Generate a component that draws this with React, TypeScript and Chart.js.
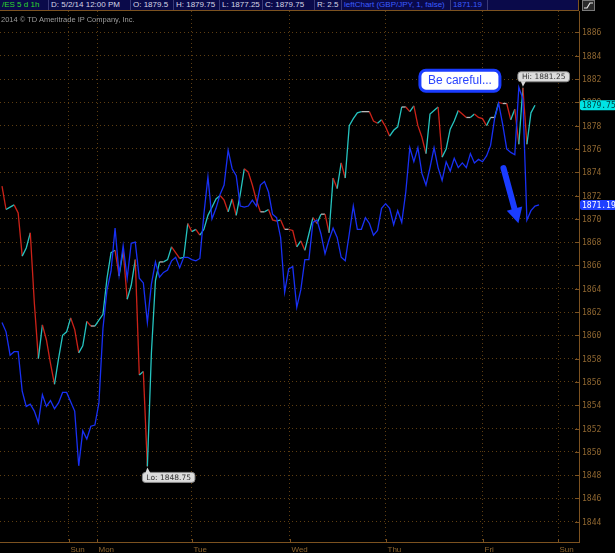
import React, { useEffect, useRef } from "react";
import { Chart, registerables } from "chart.js";

Chart.register(...registerables);

// ---------------- data ----------------
const HEADER_FIELDS = [
  "/ES 5 d 1h",
  "D: 5/2/14 12:00 PM",
  "O: 1879.5",
  "H: 1879.75",
  "L: 1877.25",
  "C: 1879.75",
  "R: 2.5",
  "leftChart (GBP/JPY, 1, false)",
  "1871.19",
];
const COPYRIGHT = "2014 \u00A9 TD Ameritrade IP Company, Inc.";
const NOTE_TEXT = "Be careful...";

// day boundaries on the hourly-bar axis
const DAY_LABELS = ["Sun", "Mon", "Tue", "Wed", "Thu", "Fri", "Sun"];
const DAY_TICKS = [16.5, 23.6, 47.0, 71.2, 95.0, 119.1, 137.7];

const PRICE_TICKS = [
  1844, 1846, 1848, 1850, 1852, 1854, 1856, 1858, 1860, 1862, 1864, 1866,
  1868, 1870, 1872, 1874, 1876, 1878, 1880, 1882, 1884, 1886,
];

// /ES hourly closes
const ES_PRICE = [
  1872.8, 1870.8, 1871.0, 1871.2, 1870.5, 1866.8, 1867.5, 1868.8, 1862.8, 1858.0,
  1860.9, 1859.6, 1857.6, 1855.8, 1858.0, 1860.0, 1860.3, 1861.5, 1860.5, 1858.5,
  1859.1, 1861.2, 1860.8, 1860.8, 1861.3, 1861.8, 1864.9, 1867.1, 1867.3, 1865.1,
  1867.3, 1863.1, 1864.3, 1866.5, 1856.6, 1856.9, 1848.75, 1858.5, 1864.7, 1866.3,
  1866.3, 1866.5, 1867.6, 1867.1, 1866.6, 1866.7, 1869.6, 1868.9, 1869.1, 1868.6,
  1869.1, 1870.3, 1871.0, 1871.7, 1872.0, 1871.6, 1870.6, 1871.7, 1870.3, 1872.1,
  1874.3, 1874.0, 1872.9, 1871.6, 1870.6, 1870.6, 1870.8, 1869.9, 1869.8, 1869.9,
  1869.1, 1869.1, 1869.0, 1867.6, 1868.1, 1867.3, 1868.7, 1870.1, 1869.6, 1870.4,
  1870.4, 1868.8, 1873.5, 1872.6, 1874.8, 1873.5, 1878.0, 1878.6, 1879.1, 1879.2,
  1879.2, 1879.2, 1878.4, 1878.2, 1878.5, 1877.9, 1877.1, 1877.6, 1877.9, 1879.6,
  1879.6, 1879.2, 1879.7, 1878.0, 1877.0, 1875.6, 1879.0, 1879.3, 1879.6, 1875.3,
  1876.0, 1877.7, 1878.4, 1879.3, 1879.0, 1878.7, 1878.7, 1879.0, 1878.7, 1878.6,
  1878.0, 1878.7, 1878.7, 1880.0, 1879.9, 1879.9, 1878.5, 1879.4, 1876.4, 1881.25,
  1876.4, 1879.1, 1879.75,
];

// GBP/JPY overlay, plotted on the price scale
const GBPJPY = [
  1861.1, 1860.3, 1858.3, 1858.6, 1858.6, 1855.2, 1853.9, 1854.1, 1853.5, 1852.5,
  1854.9, 1853.9, 1854.4, 1853.7, 1854.2, 1855.1, 1855.1, 1854.3, 1853.5, 1848.8,
  1851.8, 1851.1, 1852.2, 1852.3, 1854.2, 1860.6, 1863.9, 1865.5, 1869.2, 1865.2,
  1867.7, 1864.9, 1867.9, 1868.0, 1864.9, 1864.5, 1861.1, 1864.4, 1866.3, 1865.0,
  1865.4, 1865.6, 1866.4, 1866.7, 1865.8, 1866.7, 1866.7, 1866.5, 1866.4, 1866.6,
  1870.4, 1873.6, 1870.0, 1870.9, 1872.1, 1872.9, 1875.9, 1874.3, 1873.7, 1871.1,
  1871.0, 1871.1, 1871.6, 1871.1, 1872.9, 1873.2, 1872.3, 1870.4, 1870.1, 1868.4,
  1863.7, 1865.7, 1865.9, 1862.4, 1863.9, 1866.5, 1866.5, 1869.7, 1869.9, 1868.7,
  1867.0, 1868.2, 1869.2, 1868.4, 1866.7, 1866.4, 1868.7, 1871.1, 1869.1, 1869.1,
  1870.1, 1869.6, 1868.6, 1869.0, 1870.9, 1871.3, 1870.9, 1869.5, 1870.7, 1869.7,
  1872.3, 1876.1, 1874.9, 1876.1, 1873.9, 1872.9, 1874.4, 1876.1, 1874.4, 1873.3,
  1874.9, 1874.1, 1875.2, 1874.4, 1874.8, 1874.4, 1875.6, 1874.8, 1875.1, 1874.9,
  1875.4, 1876.3, 1878.6, 1879.9, 1878.1, 1876.0, 1875.7, 1875.5, 1881.3, 1880.3,
  1869.9, 1870.7, 1871.1, 1871.19,
];

// ---------------- styling ----------------
const W = 615;
const H = 553;
const X_MIN = -0.5;
const X_MAX = 142.9;
const Y_MIN = 1842.26;
const Y_MAX = 1887.84;

const UP = "#25c4c0";
const DOWN = "#cc2218";
const FLAT = "#b8b8b8";
const BLUE = "#1830f4";
const AXIS = "#7c5220";
const GRID = "#5e3e12";
const AXIS_TEXT = "#8e6630";

function roundRect(ctx: CanvasRenderingContext2D, x: number, y: number, w: number, h: number, r: number) {
  ctx.beginPath();
  ctx.moveTo(x + r, y);
  ctx.lineTo(x + w - r, y);
  ctx.arcTo(x + w, y, x + w, y + r, r);
  ctx.lineTo(x + w, y + h - r);
  ctx.arcTo(x + w, y + h, x + w - r, y + h, r);
  ctx.lineTo(x + r, y + h);
  ctx.arcTo(x, y + h, x, y + h - r, r);
  ctx.lineTo(x, y + r);
  ctx.arcTo(x, y, x + r, y, r);
  ctx.closePath();
}

const overlayPlugin = {
  id: "tosOverlay",
  afterDatasetsDraw(chart: any) {
    const { ctx, chartArea: a, scales } = chart;
    const xs = scales.x;
    const ys = scales.y;
    ctx.save();

    // y tick dashes and labels
    ctx.font = "8px 'DejaVu Sans Mono'";
    ctx.textBaseline = "middle";
    ctx.textAlign = "left";
    ctx.lineWidth = 1;
    PRICE_TICKS.forEach((v) => {
      const py = Math.round(ys.getPixelForValue(v)) + 0.5;
      ctx.strokeStyle = AXIS;
      ctx.beginPath();
      ctx.moveTo(a.right - 4, py);
      ctx.lineTo(a.right, py);
      ctx.stroke();
      ctx.fillStyle = AXIS_TEXT;
      ctx.fillText(String(v), a.right + 3, py);
    });

    // x tick marks and day labels
    ctx.font = "8px 'Liberation Sans'";
    DAY_TICKS.forEach((t, i) => {
      const px = Math.round(xs.getPixelForValue(t)) + 0.5;
      ctx.strokeStyle = AXIS;
      ctx.beginPath();
      ctx.moveTo(px, a.bottom - 3);
      ctx.lineTo(px, a.bottom);
      ctx.stroke();
      ctx.fillStyle = AXIS_TEXT;
      ctx.fillText(DAY_LABELS[i], px + 1, a.bottom + 8);
    });

    // last-value boxes on the price axis
    const lastBox = (val: number, text: string, bg: string, fg: string) => {
      const py = ys.getPixelForValue(val);
      ctx.fillStyle = bg;
      roundRect(ctx, a.right + 1, py - 5, W - a.right, 10, 2);
      ctx.fill();
      ctx.fillStyle = fg;
      ctx.font = "8px 'DejaVu Sans Mono'";
      ctx.textBaseline = "middle";
      ctx.fillText(text, a.right + 3, py + 0.5);
    };
    const lastEs = ES_PRICE[ES_PRICE.length - 1];
    const lastFx = GBPJPY[GBPJPY.length - 1];
    lastBox(lastEs, lastEs.toFixed(2), "#00e4e4", "#003a3a");
    lastBox(lastFx, lastFx.toFixed(2), "#1f40ff", "#ffffff");

    // Hi / Lo bubbles
    const hiIdx = ES_PRICE.indexOf(Math.max(...ES_PRICE));
    const loIdx = ES_PRICE.indexOf(Math.min(...ES_PRICE));
    const bubble = (idx: number, above: boolean) => {
      const v = ES_PRICE[idx];
      const px = xs.getPixelForValue(idx);
      const py = ys.getPixelForValue(v);
      const text = (above ? "Hi: " : "Lo: ") + v.toFixed(2);
      ctx.font = "7.5px 'DejaVu Sans'";
      const tw = ctx.measureText(text).width;
      const bw = tw + 8;
      const bh = 10;
      const bx = px - 5;
      const by = above ? py - 6 - bh : py + 6;
      ctx.fillStyle = "#dcdcdc";
      ctx.strokeStyle = "#8a8a8a";
      ctx.lineWidth = 1;
      roundRect(ctx, bx, by, bw, bh, 3);
      ctx.fill();
      ctx.stroke();
      ctx.beginPath();
      if (above) {
        ctx.moveTo(bx + 3, by + bh - 0.5);
        ctx.lineTo(px, py - 1);
        ctx.lineTo(bx + 8, by + bh - 0.5);
      } else {
        ctx.moveTo(bx + 3, by + 0.5);
        ctx.lineTo(px, py + 1);
        ctx.lineTo(bx + 8, by + 0.5);
      }
      ctx.fillStyle = "#dcdcdc";
      ctx.fill();
      ctx.fillStyle = "#333333";
      ctx.textBaseline = "middle";
      ctx.textAlign = "left";
      ctx.fillText(text, bx + 4, by + bh / 2 + 0.5);
    };
    bubble(hiIdx, true);
    bubble(loIdx, false);

    // "Be careful..." callout
    const nx = xs.getPixelForValue(103.5);
    const ny = ys.getPixelForValue(1882.76);
    ctx.lineWidth = 3;
    ctx.strokeStyle = "#1a3cff";
    ctx.fillStyle = "#ffffff";
    roundRect(ctx, nx, ny, 80, 21, 6);
    ctx.fill();
    ctx.stroke();
    ctx.fillStyle = "#2a44ff";
    ctx.font = "12px 'Liberation Sans'";
    ctx.textAlign = "center";
    ctx.textBaseline = "middle";
    ctx.fillText(NOTE_TEXT, nx + 40, ny + 11);

    // blue arrow
    const ax0 = xs.getPixelForValue(124.2);
    const ay0 = ys.getPixelForValue(1874.35);
    const ax1 = xs.getPixelForValue(127.9);
    const ay1 = ys.getPixelForValue(1869.63);
    const ang = Math.atan2(ay1 - ay0, ax1 - ax0);
    const headLen = 15;
    const hx = ax1 - headLen * Math.cos(ang);
    const hy = ay1 - headLen * Math.sin(ang);
    ctx.strokeStyle = "#1a3cff";
    ctx.fillStyle = "#1a3cff";
    ctx.lineWidth = 6;
    ctx.lineCap = "round";
    ctx.beginPath();
    ctx.moveTo(ax0, ay0);
    ctx.lineTo(hx, hy);
    ctx.stroke();
    const perp = ang + Math.PI / 2;
    const hw = 8;
    ctx.beginPath();
    ctx.moveTo(ax1, ay1);
    ctx.lineTo(hx + hw * Math.cos(perp), hy + hw * Math.sin(perp));
    ctx.lineTo(hx - hw * Math.cos(perp), hy - hw * Math.sin(perp));
    ctx.closePath();
    ctx.fill();

    ctx.restore();
  },
};

// header layout (pixel boxes)
const HEADER_BOXES = [
  { l: 0, w: 49, c: "#2ed82e" },
  { l: 49, w: 82, c: "#d6d6e6" },
  { l: 131, w: 43, c: "#d6d6e6" },
  { l: 174, w: 46, c: "#d6d6e6" },
  { l: 220, w: 43, c: "#d6d6e6" },
  { l: 263, w: 52, c: "#d6d6e6" },
  { l: 315, w: 27, c: "#d6d6e6" },
  { l: 342, w: 109, c: "#3a5cff" },
  { l: 451, w: 37, c: "#3a5cff" },
];

export default function App() {
  const ref = useRef<HTMLCanvasElement | null>(null);

  useEffect(() => {
    document.body.style.margin = "0";
    document.body.style.background = "#000";
    const canvas = ref.current;
    if (!canvas) return;
    const chart = new Chart(canvas, {
      type: "line",
      data: {
        datasets: [
          {
            label: "GBP/JPY",
            data: GBPJPY.map((v, i) => ({ x: i, y: v })),
            borderColor: BLUE,
            borderWidth: 1.3,
            pointRadius: 0,
            tension: 0,
          },
          {
            label: "/ES",
            data: ES_PRICE.map((v, i) => ({ x: i, y: v })),
            borderColor: UP,
            borderWidth: 1.3,
            pointRadius: 0,
            tension: 0,
            segment: {
              borderColor: (c: any) =>
                c.p1.parsed.y > c.p0.parsed.y ? UP : c.p1.parsed.y < c.p0.parsed.y ? DOWN : FLAT,
            },
          },
        ],
      },
      options: {
        animation: false,
        responsive: false,
        maintainAspectRatio: false,
        events: [],
        layout: { padding: { left: 0, right: 36, top: 11, bottom: 11 } },
        plugins: { legend: { display: false }, tooltip: { enabled: false } },
        scales: {
          x: {
            type: "linear",
            min: X_MIN,
            max: X_MAX,
            afterBuildTicks: (s: any) => {
              s.ticks = DAY_TICKS.map((v) => ({ value: v }));
            },
            ticks: { display: false },
            grid: { color: GRID, lineWidth: 1, drawTicks: false },
            border: { display: true, color: AXIS, width: 1, dash: [1, 3] },
          },
          y: {
            position: "right",
            min: Y_MIN,
            max: Y_MAX,
            afterBuildTicks: (s: any) => {
              s.ticks = PRICE_TICKS.map((v) => ({ value: v }));
            },
            ticks: { display: false },
            grid: { color: GRID, lineWidth: 1, drawTicks: false },
            border: { display: true, color: AXIS, width: 1, dash: [1, 3] },
          },
        },
      },
      plugins: [overlayPlugin],
    });
    return () => chart.destroy();
  }, []);

  return (
    <div style={{ position: "relative", width: W, height: H, background: "#000", overflow: "hidden" }}>
      <canvas ref={ref} width={W} height={H} style={{ position: "absolute", left: 0, top: 0, width: W, height: H }} />
      <div
        style={{
          position: "absolute",
          left: 0,
          top: 0,
          width: 579,
          height: 11,
          background: "#0a0a4a",
          borderBottom: "1px solid " + AXIS,
          borderRight: "1px solid " + AXIS,
          boxSizing: "border-box",
        }}
      />
      {HEADER_BOXES.map((b, i) => (
        <div
          key={i}
          style={{
            position: "absolute",
            left: b.l,
            top: 0,
            width: b.w,
            height: 10,
            boxSizing: "border-box",
            borderRight: "1px solid #3a3a78",
            paddingLeft: 2,
            color: b.c,
            fontFamily: "'Liberation Sans', sans-serif",
            fontSize: "8px",
            lineHeight: "10px",
            whiteSpace: "nowrap",
            overflow: "hidden",
          }}
        >
          {HEADER_FIELDS[i]}
        </div>
      ))}
      <div
        style={{
          position: "absolute",
          left: 1,
          top: 15,
          color: "#9c9c9c",
          fontFamily: "'Liberation Sans', sans-serif",
          fontSize: "7.5px",
          lineHeight: "9px",
          whiteSpace: "nowrap",
        }}
      >
        {COPYRIGHT}
      </div>
      <svg width={13} height={11} style={{ position: "absolute", left: 582, top: 0 }}>
        <rect x={0.5} y={0.5} width={12} height={10} fill="#2a2a2a" stroke="#7a7a7a" />
        <polyline points="2,8 5,8 8,3 11,3" fill="none" stroke="#e8e8e8" strokeWidth={1.2} />
      </svg>
    </div>
  );
}
